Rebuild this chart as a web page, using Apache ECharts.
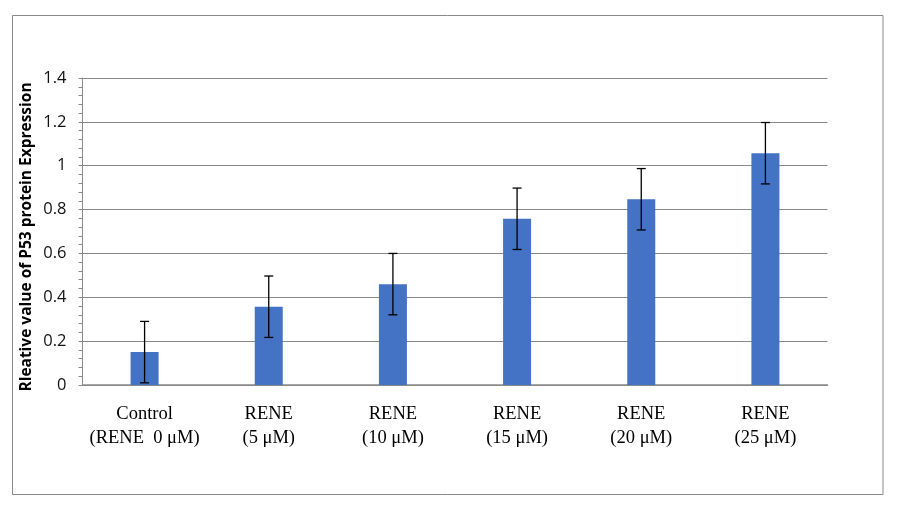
<!DOCTYPE html>
<html>
<head>
<meta charset="utf-8">
<script src="https://cdn.jsdelivr.net/npm/echarts@6/dist/echarts.min.js"></script>
<style>html,body{margin:0;padding:0;background:#fff}#c{width:901px;height:518px}</style>
</head>
<body>
<div id="c"></div>
<script>
const categories = ['Control\n(RENE  0 μM)', 'RENE\n(5 μM)', 'RENE\n(10 μM)', 'RENE\n(15 μM)', 'RENE\n(20 μM)', 'RENE\n(25 μM)'];
const values = [0.15, 0.357, 0.46, 0.758, 0.847, 1.057];
const errors = [0.14, 0.14, 0.14, 0.14, 0.14, 0.14];
const yTicks = [0, 0.2, 0.4, 0.6, 0.8, 1, 1.2, 1.4];
const yTitle = 'Rleative value of P53 protein Expression';

const chart = echarts.init(document.getElementById('c'), null, {renderer: 'canvas'});
const errData = values.map((v, i) => [i, v - errors[i], v + errors[i]]);
chart.setOption({
  animation: false,
  backgroundColor: '#fff',
  graphic: [{
    type: 'rect', shape: {x: 12.5, y: 15.5, width: 870.5, height: 479}, silent: true,
    style: {fill: 'none', stroke: '#898989', lineWidth: 1}
  }, {
    type: 'text', x: 27, y: 237, rotation: Math.PI / 2, silent: true,
    style: {text: yTitle, fontFamily: '"Open Sans", sans-serif', fontWeight: 'bold', fontSize: 15.5,
      fill: '#000', align: 'center', verticalAlign: 'middle'}
  }],
  grid: {left: 82.5, right: 73.5, top: 78, bottom: 133},
  xAxis: {
    type: 'category', data: categories,
    axisLine: {show: true, lineStyle: {color: '#898989', width: 1.5}},
    axisTick: {show: false},
    axisLabel: {fontFamily: '"Liberation Serif", serif', fontSize: 18.5, color: '#000', lineHeight: 24, margin: 17, interval: 0}
  },
  yAxis: {
    type: 'value', min: 0, max: 1.4, interval: 0.2,
    axisLine: {show: true, lineStyle: {color: '#898989', width: 1}},
    axisTick: {show: true, length: 4, lineStyle: {color: '#898989'}},
    minorTick: {show: true, splitNumber: 5, length: 4, lineStyle: {color: '#898989'}},
    splitLine: {show: true, lineStyle: {color: '#898989', width: 1}},
    axisLabel: {fontFamily: '"Open Sans", sans-serif', fontSize: 16.5, color: '#111', margin: 16,
      formatter: v => yTicks.includes(Math.round(v*10)/10) ? String(Math.round(v*10)/10) : ''}
  },
  series: [{
    type: 'bar', data: values, barWidth: 28,
    itemStyle: {color: '#4472C4'}
  }, {
    type: 'custom', data: errData, z: 10,
    renderItem: function (params, api) {
      const x = api.value(0);
      const lo = api.coord([x, api.value(1)]);
      const hi = api.coord([x, api.value(2)]);
      const hw = 4.5;
      const st = {stroke: '#000', lineWidth: 1.3};
      return {type: 'group', children: [
        {type: 'line', shape: {x1: hi[0], y1: hi[1], x2: lo[0], y2: lo[1]}, style: st},
        {type: 'line', shape: {x1: hi[0]-hw, y1: hi[1], x2: hi[0]+hw, y2: hi[1]}, style: st},
        {type: 'line', shape: {x1: lo[0]-hw, y1: lo[1], x2: lo[0]+hw, y2: lo[1]}, style: st}
      ]};
    }
  }]
});
</script>
</body>
</html>
